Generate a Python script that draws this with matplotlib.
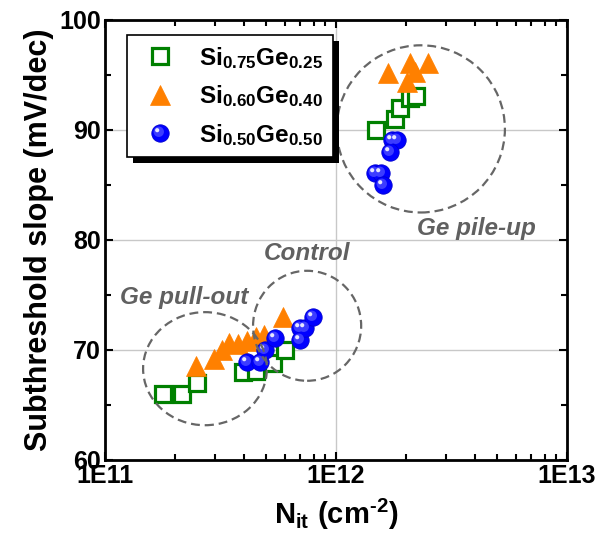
import math

import matplotlib

matplotlib.use('Agg')
import matplotlib.pyplot as plt
from matplotlib.legend_handler import HandlerTuple
from matplotlib.patches import Ellipse, Rectangle
from matplotlib.path import Path
from matplotlib.ticker import FixedLocator, FuncFormatter, LogLocator, NullFormatter

plt.rcParams['font.family'] = ['Liberation Sans', 'DejaVu Sans']
plt.rcParams['font.weight'] = 'bold'
plt.rcParams['mathtext.fontset'] = 'custom'
plt.rcParams['mathtext.rm'] = 'Liberation Sans:bold'
plt.rcParams['mathtext.bf'] = 'Liberation Sans:bold'
plt.rcParams['mathtext.it'] = 'Liberation Sans:bold:italic'

# N_it (cm^-2) vs subthreshold slope (mV/dec)
sige25_nit = [1.79e11, 2.15e11, 2.49e11, 3.97e11, 4.5e11, 5.33e11, 6.0e11,
              1.49e12, 1.8e12, 1.89e12, 2.09e12, 2.23e12]
sige25_ss = [66.0, 66.0, 67.0, 68.0, 68.1, 68.8, 70.0,
             90.0, 91.0, 92.0, 92.9, 93.1]

sige40_nit = [2.48e11, 2.95e11, 3.2e11, 3.45e11, 3.75e11, 4.1e11, 4.5e11, 4.9e11, 5.9e11,
              1.68e12, 2.02e12, 2.09e12, 2.2e12, 2.51e12]
sige40_ss = [68.5, 69.2, 70.0, 70.6, 70.5, 70.8, 71.2, 71.4, 73.0,
             95.2, 94.4, 96.1, 95.3, 96.1]

sige50_nit = [4.1e11, 4.69e11, 4.93e11, 5.44e11, 6.98e11, 6.98e11, 7.34e11, 7.98e11,
              1.74e12, 1.83e12, 1.71e12, 1.47e12, 1.57e12, 1.6e12]
sige50_ss = [68.9, 68.9, 70.0, 71.1, 70.9, 72.0, 72.0, 73.0,
             89.1, 89.1, 88.0, 86.1, 86.1, 85.0]

labels = [r'$\mathbf{Si_{0.75}Ge_{0.25}}$',
          r'$\mathbf{Si_{0.60}Ge_{0.40}}$',
          r'$\mathbf{Si_{0.50}Ge_{0.50}}$']

# dashed regions: centre (N_it, SS), size in axes fraction, label position
region_names = ['Ge pile-up', 'Control', 'Ge pull-out']
region_nit = [2.33e12, 7.5e11, 2.71e11]
region_ss = [90.1, 72.2, 68.3]
region_w = [0.364, 0.234, 0.268]
region_h = [0.38, 0.25, 0.257]
region_text_nit = [4.04e12, 7.5e11, 2.2e11]
region_text_ss = [81.0, 78.8, 74.8]


def offset_disc(cx, cy, r):
    """Circle path off the marker centre, used for sphere highlights."""
    circ = Path.unit_circle()
    return Path(circ.vertices * r + [cx, cy], circ.codes)


fig = plt.figure(figsize=(6.02, 5.39), dpi=100)
ax = fig.add_axes([0.1744, 0.1466, 0.7674, 0.8163])
ax.set_xscale('log')
ax.set_xlim(1e11, 1e13)
ax.set_ylim(60, 100)

ax.grid(True, which='major', color='#c8c8c8', linewidth=1.0)
ax.set_axisbelow(True)

h_sq, = ax.plot(sige25_nit, sige25_ss, 's', ms=11.5, mfc='white', mec='#008000',
                mew=2.3, linestyle='none', zorder=3)
h_tri, = ax.plot(sige40_nit, sige40_ss, '^', ms=15, mfc='#ff8000', mec='#ff8000',
                 mew=0.5, linestyle='none', zorder=4)

ms_ball = 12.5
mid_path = offset_disc(-0.2, 0.2, 0.6)
hi_path = offset_disc(-0.38, 0.38, 0.24)
h_ball, = ax.plot(sige50_nit, sige50_ss, 'o', ms=ms_ball, mfc='#0000ff', mec='#0000d0',
                  mew=0.6, linestyle='none', zorder=5)
h_mid, = ax.plot(sige50_nit, sige50_ss, marker=mid_path, ms=ms_ball * 0.8, mfc='#3c3cff',
                 mew=0, linestyle='none', zorder=5.1)
h_hi, = ax.plot(sige50_nit, sige50_ss, marker=hi_path, ms=ms_ball * 0.62, mfc='#e6e6ff',
                mew=0, linestyle='none', zorder=5.2)

to_axes = ax.transData + ax.transAxes.inverted()
for name, nx, sy, w, h, tx, ty in zip(region_names, region_nit, region_ss, region_w,
                                      region_h, region_text_nit, region_text_ss):
    cx, cy = to_axes.transform((nx, sy))
    ax.add_patch(Ellipse((cx, cy), w, h, transform=ax.transAxes, fill=False,
                         edgecolor='#666666', linewidth=1.6, linestyle=(0, (4, 2.2)),
                         zorder=6))
    ax.text(tx, ty, name, color='#606060', fontsize=17.5, fontstyle='italic',
            fontweight='bold', ha='center', va='center', zorder=7)

ax.xaxis.set_major_locator(FixedLocator([1e11, 1e12, 1e13]))
ax.xaxis.set_minor_locator(LogLocator(base=10, subs=range(2, 10)))
ax.xaxis.set_major_formatter(FuncFormatter(lambda v, p: '1E%d' % round(math.log10(v))))
ax.xaxis.set_minor_formatter(NullFormatter())
ax.set_yticks([60, 70, 80, 90, 100])
ax.set_yticks([65, 75, 85, 95], minor=True)

ax.tick_params(which='both', direction='in', top=True, right=True, width=1.5,
               labelsize=18, pad=3)
ax.tick_params(which='major', length=6)
ax.tick_params(which='minor', length=4)
for spine in ax.spines.values():
    spine.set_linewidth(2)

ax.set_ylabel('Subthreshold slope (mV/dec)', fontsize=22, fontweight='bold', labelpad=4)
ax.set_xlabel(r'$\mathbf{N_{it}\ (cm^{\text{-}2})}$', fontsize=21, labelpad=6)

leg = ax.legend([h_sq, h_tri, (h_ball, h_mid, h_hi)], labels,
                handler_map={tuple: HandlerTuple(ndivide=1)},
                loc='upper left', bbox_to_anchor=(0.0476, 0.966), fontsize=17.5,
                frameon=True, fancybox=False, edgecolor='black', framealpha=1,
                borderpad=0.4, labelspacing=0.52, handlelength=1.92, handletextpad=0.65,
                borderaxespad=0)
leg.get_frame().set_linewidth(1.2)
leg.set_zorder(8)

# solid black drop shadow behind the legend box
fig.canvas.draw()
bb = leg.get_window_extent().transformed(fig.transFigure.inverted())
dx, dy = 6 / fig.bbox.width, 6 / fig.bbox.height
ax.add_patch(Rectangle((bb.x0 + dx, bb.y0 - dy), bb.width, bb.height,
                       transform=fig.transFigure, facecolor='black',
                       edgecolor='none', zorder=7.5, clip_on=False))

fig.savefig('out.png', dpi=100)
plt.close(fig)
